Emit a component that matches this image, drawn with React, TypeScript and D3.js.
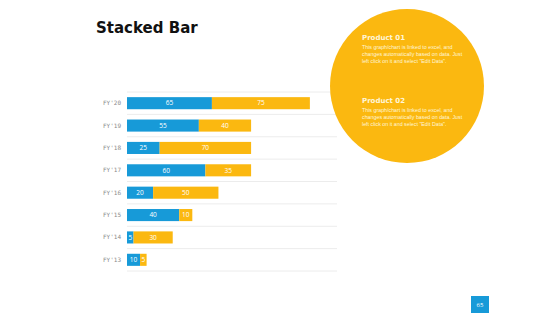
import React from "react";
import * as d3 from "d3";

// fiscal years, top to bottom
const years = ["FY'20", "FY'19", "FY'18", "FY'17", "FY'16", "FY'15", "FY'14", "FY'13"];
const product1 = [65, 55, 25, 60, 20, 40, 5, 10];
const product2 = [75, 40, 70, 35, 50, 10, 30, 5];
const seriesNames = ["Product 01", "Product 02"];
const blurb = [
  "This graph/chart is linked to excel, and",
  "changes automatically based on data. Just",
  "left click on it and select \"Edit Data\".",
];

const W = 560, H = 315;
const BLUE = "#179ad8";
const YELLOW = "#fbb810";

export default function App() {
  const x = d3.scaleLinear().domain([0, 160]).range([127, 336]);
  const y = d3.scaleBand().domain(years).range([92, 271]).paddingInner(0.46).paddingOuter(0.23);
  const band = d3.scaleBand().domain(years).range([92, 271]);

  const rows = years.map((yr, i) => ({ yr, a: product1[i], b: product2[i] }));
  const stack = d3.stack<any>().keys(["a", "b"])(rows as any);
  const colors = [BLUE, YELLOW];

  return (
    <div style={{ position: "absolute", left: 0, top: 0 }}>
      <svg width={W} height={H} style={{ display: "block", background: "#fff" }}>
        <text x={96} y={33} fontFamily="DejaVu Sans" fontWeight="bold" fontSize={15} fill="#111">Stacked Bar</text>

        {/* grid lines at band edges */}
        {years.map((yr) => (
          <line key={yr} x1={127} x2={337} y1={band(yr)!} y2={band(yr)!} stroke="#ececec" strokeWidth={1} />
        ))}
        <line x1={127} x2={337} y1={271} y2={271} stroke="#ececec" />

        {years.map((yr) => (
          <text key={yr} x={121} y={y(yr)! + y.bandwidth() / 2 + 2} textAnchor="end"
            fontFamily="DejaVu Sans Mono" fontSize={6} fill="#8a8a8a">{yr}</text>
        ))}

        {stack.map((s, si) => (
          <g key={si}>
            {s.map((d, i) => {
              const x0 = x(d[0]), x1 = x(d[1]);
              const v = d[1] - d[0];
              return (
                <g key={i}>
                  <rect x={x0} y={y(years[i])!} width={x1 - x0} height={y.bandwidth()} fill={colors[si]} />
                  <text x={(x0 + x1) / 2} y={y(years[i])! + y.bandwidth() / 2 + 2.2} textAnchor="middle"
                    fontFamily="Open Sans" fontSize={6.5} fill="#fff">{v}</text>
                </g>
              );
            })}
          </g>
        ))}

        <circle cx={407} cy={86} r={77} fill={YELLOW} />
        {seriesNames.map((n, k) => (
          <g key={n} transform={`translate(362, ${k === 0 ? 40 : 103})`}>
            <text fontFamily="DejaVu Sans" fontWeight="bold" fontSize={7} fill="#fff6d8">{n}</text>
            {blurb.map((l, j) => (
              <text key={j} y={9 + j * 7} fontFamily="Liberation Sans" fontSize={5.3} fill="#fff6d8">{l}</text>
            ))}
          </g>
        ))}

        <rect x={471} y={296} width={18} height={17} fill={BLUE} />
        <text x={480} y={307} textAnchor="middle" fontFamily="Open Sans" fontSize={6} fill="#fff">65</text>
      </svg>
    </div>
  );
}
